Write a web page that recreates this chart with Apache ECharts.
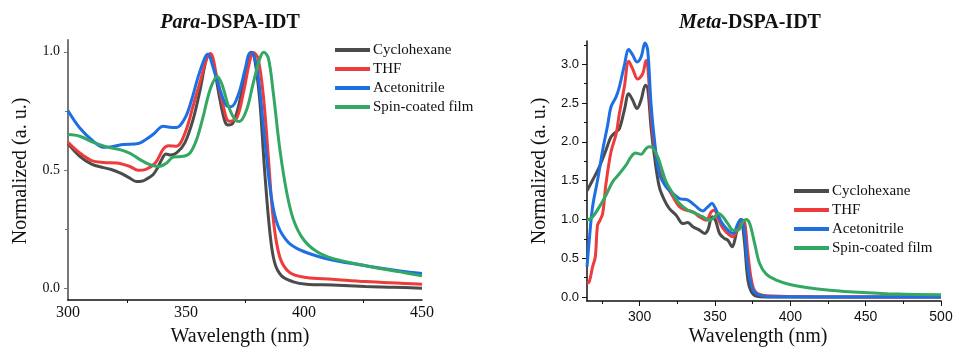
<!DOCTYPE html>
<html>
<head>
<meta charset="utf-8">
<script src="https://cdn.jsdelivr.net/npm/echarts@6/dist/echarts.min.js"></script>
<style>html,body{margin:0;padding:0;background:#fff}#c{width:954px;height:349px}</style>
</head>
<body>
<div id="c"></div>
<script>
var seriesNames = ['Cyclohexane', 'THF', 'Acetonitrile', 'Spin-coated film'];
var colors = ['#4b4b4b', '#ee3b3b', '#1e6fe3', '#32a862'];

// Para-DSPA-IDT: [wavelength nm, normalized]
var paraCyclohexane = [[300,0.612],[305,0.558],[310,0.525],[315,0.51],[318,0.503],[322,0.488],[326,0.467],[329,0.451],[331,0.452],[333,0.46],[336,0.48],[338,0.51],[340,0.55],[341.5,0.568],[343.5,0.563],[346,0.572],[349.5,0.615],[353,0.713],[356,0.84],[358.5,0.965],[359.8,0.985],[361.5,0.952],[364.4,0.797],[366.5,0.705],[367.8,0.69],[370,0.7],[372.9,0.797],[375.7,0.938],[377.6,0.998],[379,0.975],[381.2,0.8],[383.3,0.5],[385.5,0.24],[387.5,0.11],[390.5,0.052],[395.5,0.027],[401,0.017],[412,0.013],[426,0.007],[438,0.004],[450,0.0]];
var paraTHF = [[300,0.617],[305,0.572],[310,0.54],[315,0.532],[320.6,0.53],[326,0.516],[329.8,0.499],[333,0.503],[337,0.53],[340.4,0.589],[342.5,0.603],[346,0.601],[349.6,0.657],[353,0.77],[356.6,0.896],[359.2,0.985],[360.4,0.993],[363,0.896],[365.8,0.77],[368.3,0.706],[371.5,0.72],[374.3,0.826],[377,0.96],[378.5,0.997],[380.5,0.973],[382.8,0.811],[385,0.54],[387,0.29],[389.8,0.13],[394,0.066],[401,0.045],[412,0.038],[426,0.028],[450,0.017]];
var paraAcetonitrile = [[300,0.751],[305,0.678],[310.7,0.622],[315,0.596],[319.2,0.6],[323.4,0.608],[329.8,0.612],[333,0.629],[336,0.65],[340.4,0.685],[343,0.681],[346,0.68],[349.6,0.72],[352.4,0.797],[355.2,0.896],[358,0.975],[359.3,0.99],[361.3,0.94],[364.4,0.84],[367.2,0.772],[369.2,0.768],[372.2,0.819],[375,0.924],[377.2,0.995],[378.6,0.99],[380.6,0.896],[383.5,0.615],[386.3,0.376],[389,0.263],[393.4,0.193],[398.3,0.162],[405.4,0.136],[412.4,0.118],[426.6,0.094],[440.7,0.073],[450,0.062]];
var paraFilm = [[300,0.65],[305,0.643],[310.7,0.617],[316.4,0.598],[322,0.586],[326.3,0.57],[330.5,0.544],[334.7,0.523],[338.5,0.515],[341.8,0.53],[344.6,0.555],[348.9,0.558],[351.7,0.572],[354.5,0.629],[357.3,0.727],[360.2,0.84],[363.2,0.896],[365.3,0.861],[368,0.77],[370.8,0.713],[372.6,0.705],[375.7,0.755],[378.5,0.868],[381.4,0.975],[383,0.998],[384.9,0.973],[387,0.825],[389.8,0.585],[392.7,0.404],[395.5,0.291],[399.7,0.207],[405.4,0.155],[412.4,0.125],[426.6,0.094],[440.7,0.069],[450,0.052]];

// Meta-DSPA-IDT
var metaCyclohexane = [[265,1.37],[268.7,1.506],[273.2,1.678],[277.6,1.893],[280.9,2.064],[284.3,2.129],[286.5,2.17],[289.8,2.41],[292.7,2.62],[295.3,2.54],[298.2,2.43],[300.9,2.54],[303.8,2.73],[305.3,2.69],[307.5,2.19],[309.8,1.81],[313,1.42],[316.4,1.25],[319.7,1.14],[324.2,1.056],[328.6,0.948],[331.9,0.961],[335.3,0.906],[339.7,0.863],[343,0.82],[345.2,0.863],[348.1,1.034],[350.3,0.99],[353,0.82],[356.3,0.755],[358.5,0.734],[361.4,0.648],[363.6,0.777],[365.9,0.97],[367.2,1.0],[369.4,0.734],[371.8,0.219],[374.1,0.069],[377.4,0.013],[384,0.002],[420,0.0],[500,0.0]];
var metaTHF = [[265,0.176],[266.5,0.197],[268.7,0.39],[270.5,0.52],[272,0.927],[273.6,0.99],[275.4,1.077],[277.6,1.46],[280.9,1.87],[284.3,2.1],[286.5,2.365],[289.8,2.71],[292.7,3.04],[295.3,2.94],[298.7,2.81],[302,2.88],[304.2,3.05],[305.3,2.97],[307.5,2.365],[309.8,1.935],[313,1.635],[316.4,1.485],[320.8,1.335],[326.4,1.163],[330.8,1.12],[335.3,1.1],[339.7,1.034],[344.1,0.99],[347.5,1.1],[349.7,1.12],[352,1.01],[355.3,0.884],[359.6,0.798],[362,0.777],[365.2,0.906],[367.4,1.0],[369.6,0.97],[371.8,0.562],[375.2,0.133],[379.6,0.034],[388.5,0.013],[415,0.004],[500,0.0]];
var metaAcetonitrile = [[265,0.39],[266.5,0.734],[268.7,1.163],[272,1.506],[275.4,1.893],[278.7,2.215],[280.9,2.45],[284.3,2.58],[286.5,2.71],[289.8,2.987],[292.7,3.19],[295.3,3.12],[298.2,3.03],[300.9,3.094],[303.5,3.275],[305.3,3.18],[307.5,2.49],[309.8,2.02],[313,1.59],[317.5,1.42],[322,1.335],[326.4,1.27],[332,1.25],[336.4,1.185],[341.9,1.11],[345.2,1.163],[347.9,1.206],[350.8,1.12],[354.1,0.97],[358.5,0.863],[361.9,0.82],[365.2,0.948],[367.2,1.0],[369.4,0.863],[371.8,0.39],[375.2,0.09],[379.6,0.026],[388.5,0.004],[500,0.0]];
var metaFilm = [[265,0.99],[268.7,1.034],[273.2,1.163],[277.6,1.313],[282,1.485],[286.5,1.59],[290.9,1.7],[294.2,1.807],[297.1,1.858],[300.9,1.84],[304.2,1.914],[306.4,1.936],[308.6,1.923],[312,1.807],[314.2,1.678],[317.5,1.485],[322,1.335],[326.4,1.206],[332,1.12],[337.5,1.077],[342,1.034],[346.3,0.99],[349.7,1.034],[352.3,1.077],[355.2,1.034],[358.5,0.948],[361.9,0.863],[365.2,0.863],[368.5,0.97],[370.7,1.0],[373,0.948],[376.3,0.69],[379.6,0.433],[384,0.296],[390.7,0.219],[399.6,0.163],[410.6,0.124],[426.2,0.09],[448.3,0.06],[470.5,0.039],[500,0.03]];

// tick values
var paraXMajor = [300, 350, 400, 450];
var paraXMinor = [325, 375, 425];
var paraYMajor = [0, 0.5, 1.0];
var paraYMinor = [0.25, 0.75];
var metaXMajor = [300, 350, 400, 450, 500];
var metaXMinor = [275, 325, 375, 425, 475];
var metaYMajor = [0, 0.5, 1.0, 1.5, 2.0, 2.5, 3.0];
var metaYMinor = [0.25, 0.75, 1.25, 1.75, 2.25, 2.75, 3.25];

var serif = 'Liberation Serif';
var sans = 'Liberation Sans';

function mkAxis(type, gi, min, max, vals, isMajor, lineColor, lineShow, tickLen, labelOpt) {
  return {
    type: 'value', gridIndex: gi, min: min, max: max,
    position: type === 'x' ? 'bottom' : 'left',
    splitLine: {show: false},
    axisLine: {show: lineShow, onZero: false, lineStyle: {color: lineColor, width: type === 'y' && gi === 0 ? 2 : 1.5}},
    axisTick: {show: vals.length > 0, inside: false, length: tickLen, customValues: vals, lineStyle: {color: lineColor, width: 1}},
    axisLabel: labelOpt ? Object.assign({customValues: vals}, labelOpt) : {show: false}
  };
}

var fmt1 = function (v) { return v.toFixed(1); };
var fmt0 = function (v) { return String(Math.round(v)); };

var xAxes = [
  mkAxis('x', 0, 300, 450, [], true, '#111', true, 0, {fontFamily: serif, fontSize: 16, color: '#111', margin: 5, formatter: fmt0}),
  mkAxis('x', 0, 300, 450, paraXMinor, false, '#111', false, 3, null),
  mkAxis('x', 1, 265, 500, metaXMajor, true, '#111', true, 5, {fontFamily: sans, fontSize: 14, color: '#111', margin: 9, formatter: fmt0}),
  mkAxis('x', 1, 265, 500, metaXMinor, false, '#111', false, 3, null)
];
xAxes[0].axisLabel.customValues = paraXMajor;
var yAxes = [
  mkAxis('y', 0, -0.05, 1.05, paraYMajor, true, '#777', true, 4, {fontFamily: serif, fontSize: 14, color: '#111', margin: 8, formatter: fmt1}),
  mkAxis('y', 0, -0.05, 1.05, paraYMinor, false, '#777', false, 3, null),
  mkAxis('y', 1, -0.05, 3.3, metaYMajor, true, '#111', true, 5, {fontFamily: sans, fontSize: 13, color: '#111', margin: 8, formatter: fmt1}),
  mkAxis('y', 1, -0.05, 3.3, metaYMinor, false, '#111', false, 3, null)
];

var paraData = [paraCyclohexane, paraTHF, paraAcetonitrile, paraFilm];
var metaData = [metaCyclohexane, metaTHF, metaAcetonitrile, metaFilm];
var series = [];
seriesNames.forEach(function (n, i) {
  series.push({name: n, type: 'line', xAxisIndex: 0, yAxisIndex: 0, data: paraData[i], showSymbol: false, symbol: 'none', smooth: 0.35,
    lineStyle: {color: colors[i], width: 3}, itemStyle: {color: colors[i]}, z: 2 + i});
});
seriesNames.forEach(function (n, i) {
  series.push({name: n, type: 'line', xAxisIndex: 2, yAxisIndex: 2, data: metaData[i], showSymbol: false, symbol: 'none', smooth: 0.35,
    lineStyle: {color: colors[i], width: 3}, itemStyle: {color: colors[i]}, z: 2 + i});
});

function legendAt(left, top) {
  return {
    orient: 'vertical', left: left, top: top, icon: 'rect', itemWidth: 35, itemHeight: 4, itemGap: 3,
    padding: 0, selectedMode: false,
    data: seriesNames,
    textStyle: {fontFamily: serif, fontSize: 15, color: '#111', lineHeight: 16, padding: [0, 0, 0, -2]}
  };
}

var chart = echarts.init(document.getElementById('c'), null, {renderer: 'canvas'});
chart.setOption({
  animation: false,
  backgroundColor: '#fff',
  grid: [
    {left: 68, right: 532, top: 40, bottom: 49, outerBoundsMode: 'none'},
    {left: 587, right: 13, top: 41, bottom: 48, outerBoundsMode: 'none'}
  ],
  xAxis: xAxes,
  yAxis: yAxes,
  legend: [legendAt(335, 42), legendAt(794, 183)],
  series: series,
  graphic: [
    {type: 'text', x: 230, y: 23, style: {text: '{i|Para}{b|-DSPA-IDT}', align: 'center', verticalAlign: 'middle',
      rich: {i: {fontFamily: serif, fontSize: 20, fontWeight: 'bold', fontStyle: 'italic', fill: '#111'}, b: {fontFamily: serif, fontSize: 20, fontWeight: 'bold', fill: '#111'}}}},
    {type: 'text', x: 750, y: 23, style: {text: '{i|Meta}{b|-DSPA-IDT}', align: 'center', verticalAlign: 'middle',
      rich: {i: {fontFamily: serif, fontSize: 20, fontWeight: 'bold', fontStyle: 'italic', fill: '#111'}, b: {fontFamily: serif, fontSize: 20, fontWeight: 'bold', fill: '#111'}}}},
    {type: 'text', x: 240, y: 337, style: {text: 'Wavelength (nm)', align: 'center', verticalAlign: 'middle', fontFamily: serif, fontSize: 20, fill: '#111'}},
    {type: 'text', x: 758, y: 337, style: {text: 'Wavelength (nm)', align: 'center', verticalAlign: 'middle', fontFamily: serif, fontSize: 20, fill: '#111'}},
    {type: 'text', x: 21, y: 171, rotation: Math.PI / 2, style: {text: 'Normalized (a. u.)', align: 'center', verticalAlign: 'middle', fontFamily: serif, fontSize: 20, fill: '#111'}},
    {type: 'text', x: 540, y: 171, rotation: Math.PI / 2, style: {text: 'Normalized (a. u.)', align: 'center', verticalAlign: 'middle', fontFamily: serif, fontSize: 20, fill: '#111'}}
  ]
});
</script>
</body>
</html>
